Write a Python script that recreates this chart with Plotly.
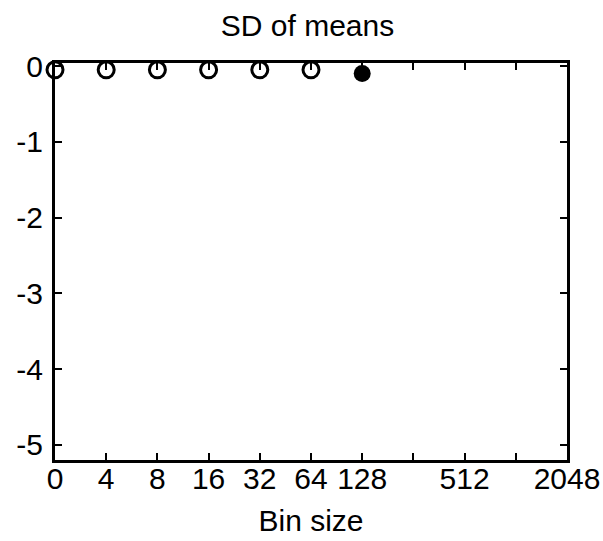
import plotly.graph_objects as go

# Bin sizes on an evenly spaced (log2-style) axis; 256 and 1024 carry unlabeled ticks
bin_sizes = ["0", "4", "8", "16", "32", "64", "128", "256", "512", "1024", "2048"]
tick_text = ["0", "4", "8", "16", "32", "64", "128", "", "512", "", "2048"]

# SD of means per bin size (open markers), last measured bin shown filled
open_bins = ["0", "4", "8", "16", "32", "64"]
open_sd = [-0.05, -0.05, -0.05, -0.05, -0.05, -0.05]
filled_bins = ["128"]
filled_sd = [-0.1]

pos = {b: i for i, b in enumerate(bin_sizes)}

font = dict(family="Liberation Sans, Arial, sans-serif", size=30, color="black")

fig = go.Figure()
fig.add_trace(go.Scatter(
    x=[pos[b] for b in open_bins], y=open_sd, mode="markers",
    marker=dict(symbol="circle-open", size=16, color="black", line=dict(width=3)),
    cliponaxis=False, showlegend=False,
))
fig.add_trace(go.Scatter(
    x=[pos[b] for b in filled_bins], y=filled_sd, mode="markers",
    marker=dict(symbol="circle", size=17, color="black"),
    cliponaxis=False, showlegend=False,
))

axis_common = dict(
    showgrid=False, zeroline=False, showline=True, linecolor="black", linewidth=3,
    mirror="ticks", ticks="inside", ticklen=7, tickwidth=2, tickcolor="black",
    tickfont=font, automargin=False,
)

fig.update_layout(
    width=603, height=541,
    margin=dict(l=55, r=36, t=63, b=81),
    paper_bgcolor="white", plot_bgcolor="white",
    font=font,
    title=dict(text="SD of means", x=0.51, xanchor="center", y=0.953, yanchor="middle",
               font=font),
    xaxis=dict(
        range=[0, len(bin_sizes) - 1],
        tickvals=list(range(len(bin_sizes))), ticktext=tick_text,
        title=dict(text="Bin size", font=font, standoff=16),
        ticklabelstandoff=-10,
        **axis_common,
    ),
    yaxis=dict(
        range=[-5.2, 0.04],
        tickvals=[0, -1, -2, -3, -4, -5],
        ticktext=["0", "-1", "-2", "-3", "-4", "-5"],
        ticklabelstandoff=3,
        **axis_common,
    ),
)

fig.write_html("out.html")
